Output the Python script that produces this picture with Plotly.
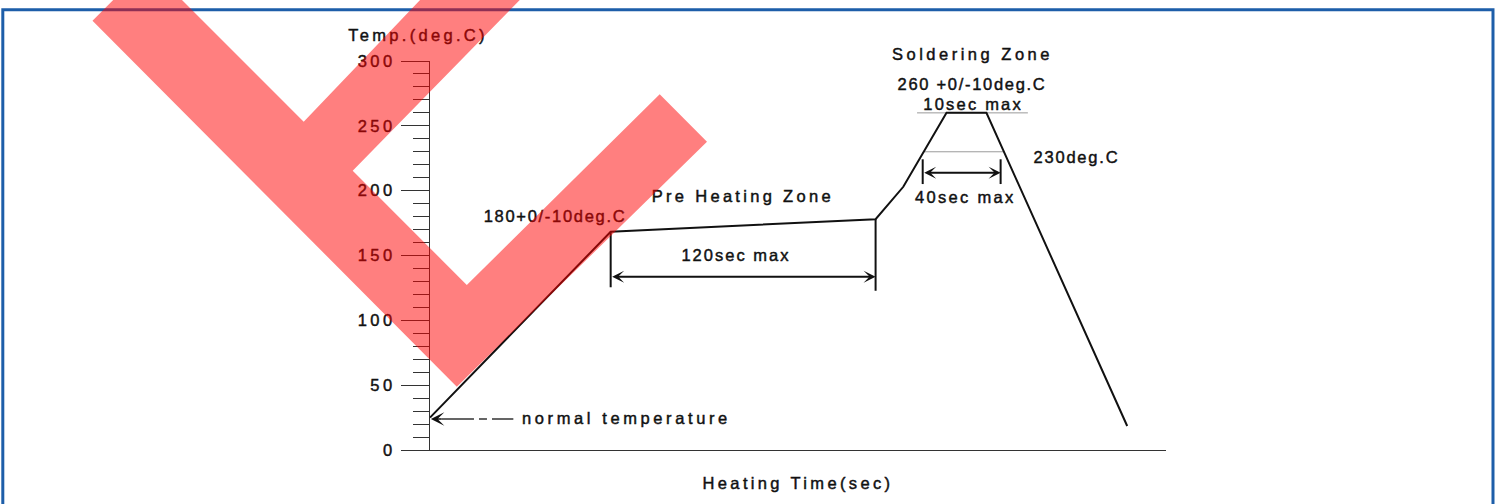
import plotly.graph_objects as go

# ---------------- data (seconds, deg C) ----------------
profile_time = [0, 81.5, 201, 213.5, 233, 251, 314.5]
profile_temp = [25, 168.3, 178, 203, 260, 260, 18.5]

y_tick_vals = [0, 50, 100, 150, 200, 250, 300]
y_tick_labels = ["0", "50", "100", "150", "200", "250", "300"]

peak_ref_temp = 260
peak_ref_span = [219.7, 269.7]
liquidus_ref_temp = 230
liquidus_ref_span = [222.5, 258.5]

preheat_dim_x = [81.5, 201]
preheat_dim_top = [168.3, 178]
preheat_dim_bottom = [125.5, 122.8]
preheat_arrow_temp = 133.7

solder_dim_x = [222.25, 257.4]
solder_dim_top = 224.2
solder_dim_bottom = 205.1
solder_arrow_temp = 213.9

normal_temp_level = 23.9
normal_arrow_x = [0.4, 6.0]
normal_dash_x = [5.4, 37.6]

label_texts = ["Temp.(deg.C)", "180+0/-10deg.C", "Pre Heating Zone", "120sec max",
               "Soldering Zone", "260 +0/-10deg.C", "10sec max", "230deg.C",
               "40sec max", "normal temperature"]
label_x = [-5.4, 56.4, 141.1, 138.0, 244.7, 244.5, 245.0, 291.6, 241.5, 88.6]
label_y = [318.6, 179.4, 194.5, 149.2, 303.8, 280.5, 265.5, 224.4, 193.8, 23.3]
label_spacing = [3.3, 1.7, 3.3, 2.0, 3.5, 1.7, 2.2, 1.8, 2.3, 3.6]

x_title = "Heating Time(sec)"

X_RANGE = [0, 332]
Y_RANGE = [0, 300]

FONT = "Liberation Sans, Arial, sans-serif"
FS = 16.5
INK = "#111111"

# ---------------- geometry (pixels in the reference screenshot) ----------------
W, H = 1498, 504             # figure size
L, R, T, B = 430, 1166, 61, 450   # plot area in px

sx = (R - L) / (X_RANGE[1] - X_RANGE[0])
sy = (B - T) / (Y_RANGE[1] - Y_RANGE[0])
x2_range = [X_RANGE[0] - L / sx, X_RANGE[0] + (W - L) / sx]
y2_range = [Y_RANGE[0] - (H - B) / sy, Y_RANGE[1] + T / sy]


def px2paper(px, py):
    return px / W, 1 - py / H


def path_from_px(points, close=True):
    parts = []
    for i, (px, py) in enumerate(points):
        x, y = px2paper(px, py)
        parts.append(("M" if i == 0 else "L") + f"{x:.5f},{y:.5f}")
    return " ".join(parts) + (" Z" if close else "")


def styled(t, s):
    return (f'<span style="letter-spacing:{s}px;stroke:{INK};stroke-width:0.45px">'
            f'{t}</span>')


fig = go.Figure()

line_kw = dict(cliponaxis=False, hoverinfo="skip", showlegend=False)

# reference level lines
fig.add_trace(go.Scatter(x=peak_ref_span, y=[peak_ref_temp] * 2, mode="lines",
                         line=dict(color="#9a9a9a", width=1), **line_kw))
fig.add_trace(go.Scatter(x=liquidus_ref_span, y=[liquidus_ref_temp] * 2, mode="lines",
                         line=dict(color="#9a9a9a", width=1), **line_kw))

# dimension verticals
for xv, top, bot in zip(preheat_dim_x, preheat_dim_top, preheat_dim_bottom):
    fig.add_trace(go.Scatter(x=[xv, xv], y=[top, bot], mode="lines",
                             line=dict(color=INK, width=2), **line_kw))
for xv in solder_dim_x:
    fig.add_trace(go.Scatter(x=[xv, xv], y=[solder_dim_top, solder_dim_bottom], mode="lines",
                             line=dict(color=INK, width=2), **line_kw))

# dashed leader for normal temperature
fig.add_trace(go.Scatter(x=normal_dash_x, y=[normal_temp_level] * 2, mode="lines",
                         line=dict(color="#333333", width=1.5, dash="32px,5px,8px,5px,30px"),
                         **line_kw))

# profile
fig.add_trace(go.Scatter(x=profile_time, y=profile_temp, mode="lines",
                         line=dict(color=INK, width=2), **line_kw))

# labels on an invisible full-figure overlay with the same scale
fig.add_trace(go.Scatter(x=label_x, y=label_y, mode="text", xaxis="x2", yaxis="y2",
                         text=[styled(t, s) for t, s in zip(label_texts, label_spacing)],
                         textposition="middle center",
                         textfont=dict(family=FONT, size=FS, color=INK), **line_kw))

# arrows
arrow_common = dict(xref="x", yref="y", axref="x", ayref="y", text="", showarrow=True,
                    arrowcolor=INK, standoff=0, startstandoff=0)
fig.add_annotation(x=preheat_dim_x[1], y=preheat_arrow_temp, ax=preheat_dim_x[0], ay=preheat_arrow_temp,
                   arrowside="end+start", arrowhead=3, startarrowhead=3, arrowwidth=2,
                   arrowsize=1.0, startarrowsize=1.0, **arrow_common)
fig.add_annotation(x=solder_dim_x[1], y=solder_arrow_temp, ax=solder_dim_x[0], ay=solder_arrow_temp,
                   arrowside="end+start", arrowhead=3, startarrowhead=3, arrowwidth=2,
                   arrowsize=1.0, startarrowsize=1.0, **arrow_common)
fig.add_annotation(x=normal_arrow_x[0], y=normal_temp_level, ax=normal_arrow_x[1], ay=normal_temp_level,
                   arrowhead=3, arrowwidth=1.6, arrowsize=1.4, **arrow_common)

# frame and watermark (pixel-measured decorations)
frame_pts = [(2.8, 530), (2.8, 9.7), (1493, 9.7), (1493, 530)]
fig.add_shape(type="path", path=path_from_px(frame_pts, close=False), xref="paper", yref="paper",
              line=dict(color="#1d5ea9", width=3), layer="above")
mark_pts = [(92.5, 20.7), (147.6, -34.4), (303.7, 121.7), (458.3, -40), (558.9, -40),
            (352.7, 170.7), (466.8, 285), (659.7, 94.3), (707, 141.7), (456.8, 386.7)]
fig.add_shape(type="path", path=path_from_px(mark_pts), xref="paper", yref="paper",
              fillcolor="rgba(255,0,0,0.5)", line=dict(width=0), layer="above")

fig.update_layout(
    width=W, height=H,
    margin=dict(l=0, r=0, t=0, b=0, pad=0, autoexpand=False),
    paper_bgcolor="white", plot_bgcolor="rgba(0,0,0,0)",
    showlegend=False,
    font=dict(family=FONT, size=FS, color=INK),
    xaxis=dict(domain=[L / W, R / W], range=X_RANGE, showline=True, linecolor="#333333",
               linewidth=1, ticks="", showticklabels=False, showgrid=False, zeroline=False,
               automargin=False,
               title=dict(text=styled(x_title, 3.35), font=dict(family=FONT, size=FS, color=INK),
                          standoff=27)),
    yaxis=dict(domain=[1 - B / H, 1 - T / H], range=Y_RANGE, showline=True,
               linecolor="#333333", linewidth=1, automargin=False,
               ticks="outside", ticklen=28, tickwidth=1, tickcolor="#333333",
               tickvals=y_tick_vals, ticktext=[styled(t, 3.5) for t in y_tick_labels],
               tickfont=dict(family=FONT, size=FS, color=INK),
               ticklabelstandoff=2,
               minor=dict(dtick=10, ticks="outside", ticklen=16, tickwidth=1, tickcolor="#333333",
                          showgrid=False),
               showgrid=False, zeroline=False),
    xaxis2=dict(domain=[0, 1], range=x2_range, visible=False, anchor="y2", automargin=False),
    yaxis2=dict(domain=[0, 1], range=y2_range, visible=False, anchor="x2", automargin=False),
)

fig.write_html("out.html", config={"displayModeBar": False},
               post_script="document.body.style.margin='0px';")
